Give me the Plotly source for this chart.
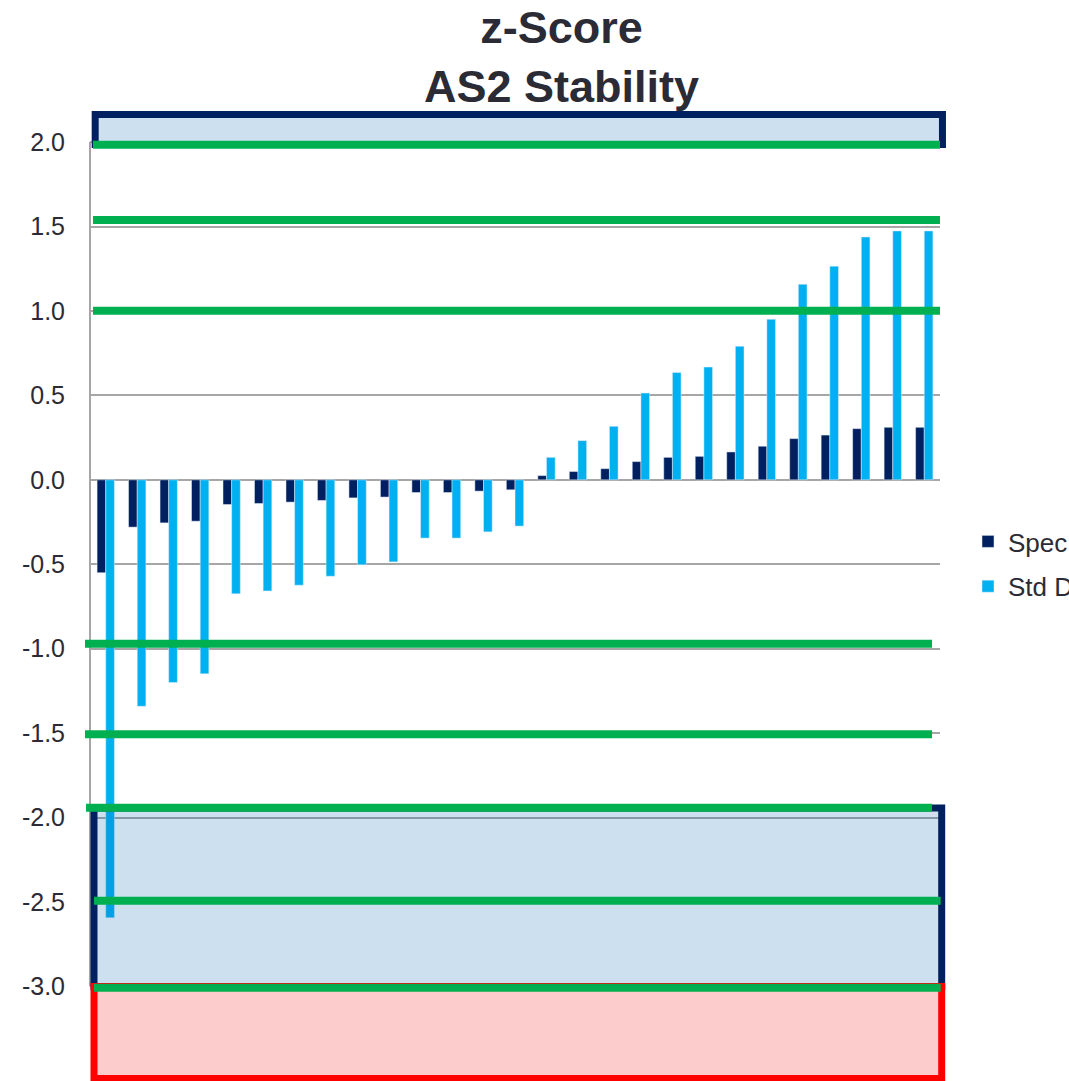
import plotly.graph_objects as go

# ---- data ----
categories = list(range(1, 28))
spec = [-0.55, -0.28, -0.255, -0.245, -0.146, -0.14, -0.132, -0.122, -0.107, -0.102,
        -0.075, -0.075, -0.067, -0.059, 0.025, 0.049, 0.066, 0.108, 0.133, 0.139,
        0.165, 0.199, 0.244, 0.265, 0.303, 0.311, 0.311]
std_dev = [-2.593, -1.341, -1.200, -1.149, -0.675, -0.658, -0.624, -0.571, -0.503, -0.486,
           -0.345, -0.345, -0.308, -0.274, 0.133, 0.232, 0.317, 0.514, 0.635, 0.668,
           0.791, 0.951, 1.158, 1.265, 1.438, 1.474, 1.474]
series_names = ["Spec", "Std Dev"]
title_lines = ["z-Score", "AS2 Stability"]
tick_values = [2.0, 1.5, 1.0, 0.5, 0.0, -0.5, -1.0, -1.5, -2.0, -2.5, -3.0]
tick_labels = ["2.0", "1.5", "1.0", "0.5", "0.0", "-0.5", "-1.0", "-1.5", "-2.0", "-2.5", "-3.0"]
# hand-drawn green reference levels
green_levels = [1.984, 1.538, 1.001, -0.971, -1.507, -1.942, -2.492, -3.008]
# shaded zones (y ranges)
top_zone = (1.985, 2.163)
low_zone = (-3.0, -1.944)
red_zone = (-3.545, -3.0)

NAVY = "#002060"
CYAN = "#00B0F0"
GREEN = "#00B050"
TXT = "#2b2b36"
FONT = "Liberation Sans, Arial, sans-serif"

fig = go.Figure()
fig.add_trace(go.Bar(x=categories, y=spec, name=series_names[0], marker_color=NAVY,
                     legendgroup="a"))
fig.add_trace(go.Bar(x=categories, y=std_dev, name=series_names[1], marker_color=CYAN,
                     legendgroup="b"))

shapes = []
# axis line (from -3 to 2)
shapes.append(dict(type="line", xref="paper", yref="y", x0=0, x1=0, y0=-3.0, y1=2.0,
                   line=dict(color="#A6A6A6", width=2), layer="below"))
# zones
shapes.append(dict(type="rect", xref="paper", yref="y", x0=0.0061, x1=1.0029,
                   y0=top_zone[0], y1=top_zone[1],
                   fillcolor="rgba(0,100,180,0.2)", line=dict(color=NAVY, width=7), layer="above"))
shapes.append(dict(type="rect", xref="paper", yref="y", x0=0.0047, x1=1.002,
                   y0=low_zone[0], y1=low_zone[1],
                   fillcolor="rgba(0,100,180,0.2)", line=dict(color=NAVY, width=7), layer="above"))
shapes.append(dict(type="rect", xref="paper", yref="y", x0=0.0047, x1=1.002,
                   y0=red_zone[0], y1=red_zone[1],
                   fillcolor="rgba(240,0,0,0.2)", line=dict(color="#FF0000", width=7), layer="above"))
# green lines
x_ext = [(0.0035, 1.0), (0.0035, 1.0), (0.0035, 1.0), (-0.0059, 0.9906), (-0.0059, 0.9906),
         (-0.0047, 0.9906), (0.0047, 1.0008), (0.0047, 1.0008)]
for lvl, (xa, xb) in zip(green_levels, x_ext):
    shapes.append(dict(type="line", xref="paper", yref="y", x0=xa, x1=xb, y0=lvl, y1=lvl,
                       line=dict(color=GREEN, width=8), layer="above"))

fig.update_layout(
    width=1069, height=1081,
    margin=dict(l=90, r=129, t=110, b=0, autoexpand=False),
    paper_bgcolor="white", plot_bgcolor="white",
    barmode="group", bargap=0.45, bargroupgap=0,
    font=dict(family=FONT, color=TXT, size=24),
    showlegend=True,
    legend=dict(x=(968 - 90) / 850, xanchor="left", y=(1081 - 564) / 971, yanchor="middle",
                font=dict(size=26, color=TXT), bgcolor="rgba(0,0,0,0)", tracegroupgap=8),
    xaxis=dict(showticklabels=False, showgrid=False,
               zeroline=False, showline=False, type="category"),
    yaxis=dict(range=[-3.56, 2.19], tickvals=tick_values, ticktext=tick_labels,
               showgrid=True, gridcolor="#A6A6A6", gridwidth=2, zeroline=False,
               showline=False, ticks="", ticklabelstandoff=24,
               tickfont=dict(size=25, color=TXT)),
    shapes=shapes,
    annotations=[dict(text="<b>" + "<br>".join(title_lines) + "</b>",
                      xref="paper", yref="paper", x=(561 - 90) / 850, xanchor="center",
                      y=(1081 - 57) / 971, yanchor="middle", showarrow=False,
                      font=dict(size=45, color=TXT, family=FONT))],
)

fig.write_html("out.html")
